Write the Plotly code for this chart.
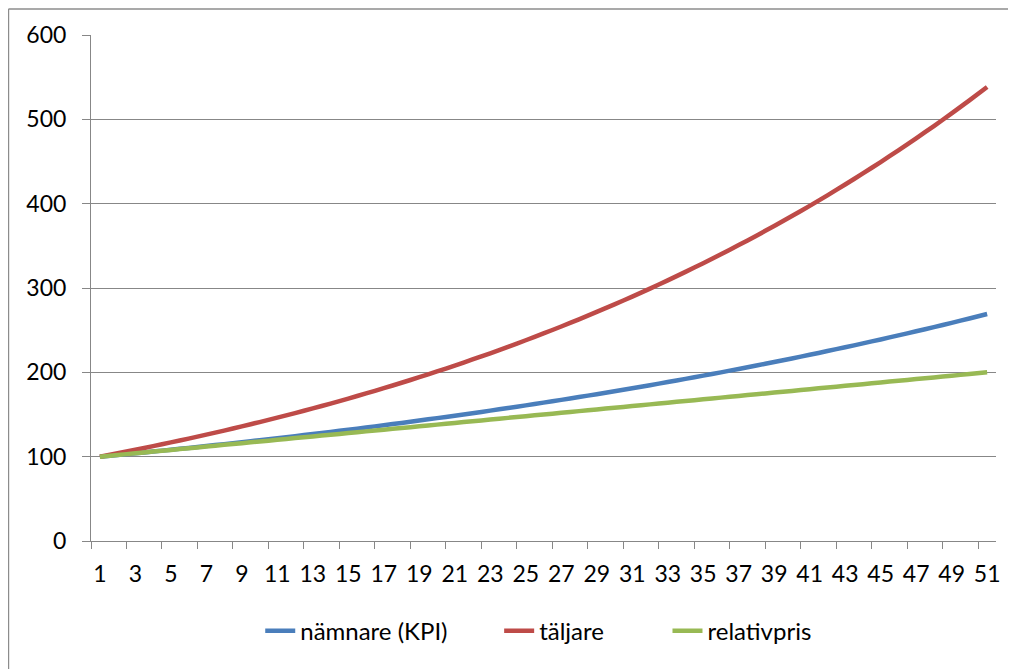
import plotly.graph_objects as go

categories = [str(i) for i in range(1, 52)]

kpi = [100.00, 102.00, 104.04, 106.12, 108.24, 110.41, 112.62, 114.87, 117.17, 119.51,
       121.90, 124.34, 126.82, 129.36, 131.95, 134.59, 137.28, 140.02, 142.82, 145.68,
       148.59, 151.57, 154.60, 157.69, 160.84, 164.06, 167.34, 170.69, 174.10, 177.58,
       181.14, 184.76, 188.45, 192.22, 196.07, 199.99, 203.99, 208.07, 212.23, 216.47,
       220.80, 225.22, 229.72, 234.32, 239.01, 243.79, 248.66, 253.63, 258.71, 263.88,
       269.16]

taljare = [100.00, 104.04, 108.20, 112.49, 116.90, 121.45, 126.13, 130.95, 135.92, 141.02,
           146.28, 151.69, 157.26, 162.99, 168.90, 174.97, 181.21, 187.63, 194.24, 201.04,
           208.03, 215.23, 222.62, 230.23, 238.04, 246.09, 254.36, 262.86, 271.60, 280.58,
           289.82, 299.31, 309.06, 319.09, 329.40, 339.98, 350.86, 362.04, 373.52, 385.32,
           397.44, 409.90, 422.68, 435.84, 449.34, 463.20, 477.43, 492.04, 507.07, 522.48,
           538.32]

relativpris = [100, 102, 104, 106, 108, 110, 112, 114, 116, 118,
               120, 122, 124, 126, 128, 130, 132, 134, 136, 138,
               140, 142, 144, 146, 148, 150, 152, 154, 156, 158,
               160, 162, 164, 166, 168, 170, 172, 174, 176, 178,
               180, 182, 184, 186, 188, 190, 192, 194, 196, 198,
               200]

y_ticks = [0, 100, 200, 300, 400, 500, 600]

series = [
    ("nämnare (KPI)", kpi, "#4A7EBB", "legend"),
    ("täljare", taljare, "#BE4B48", "legend2"),
    ("relativpris", relativpris, "#98B954", "legend3"),
]

fig = go.Figure()
for name, vals, color, lg in series:
    fig.add_trace(go.Scatter(
        x=categories, y=vals, name=name, mode="lines", legend=lg,
        line=dict(color=color, width=4.5, shape="spline", smoothing=0.5),
    ))

FONT = "Lato"
grid = "#878787"
LEG_Y = -0.178


def leg(x):
    return dict(orientation="h", x=x, xanchor="left", y=LEG_Y, yanchor="middle",
                font=dict(family=FONT, size=24, color="black"),
                bgcolor="rgba(0,0,0,0)", borderwidth=0)


fig.update_layout(
    width=1008, height=661,
    margin=dict(l=83, r=20, t=27, b=128, autoexpand=False),
    paper_bgcolor="white", plot_bgcolor="white",
    font=dict(family=FONT, size=23, color="black"),
    showlegend=True,
    legend=leg(0.187),
    legend2=leg(0.451),
    legend3=leg(0.637),
    xaxis=dict(
        type="category", categoryorder="array", categoryarray=categories,
        range=[-0.5, 50.5], dtick=2, tickson="boundaries", tickangle=0,
        ticks="outside", ticklen=7, tickcolor=grid, tickwidth=1,
        ticklabelstandoff=12, automargin=False,
        showline=True, linecolor=grid, linewidth=1,
        showgrid=False, zeroline=False,
        tickfont=dict(family=FONT, size=23),
    ),
    yaxis=dict(
        range=[0, 600], tickvals=y_ticks,
        ticks="outside", ticklen=8, tickcolor=grid, tickwidth=1,
        ticklabelstandoff=11, automargin=False,
        showline=True, linecolor=grid, linewidth=1,
        showgrid=True, gridcolor=grid, gridwidth=1,
        zeroline=False, tickfont=dict(family=FONT, size=23),
    ),
    shapes=[
        dict(type="line", xref="paper", yref="paper", x0=-0.0912, x1=1.03,
             y0=1.0515, y1=1.0515, line=dict(color="#8C8C8C", width=1.5)),
        dict(type="line", xref="paper", yref="paper", x0=-0.0912, x1=-0.0912,
             y0=1.0515, y1=-0.26, line=dict(color="#8C8C8C", width=1.5)),
    ],
)

fig.write_html("out.html")
